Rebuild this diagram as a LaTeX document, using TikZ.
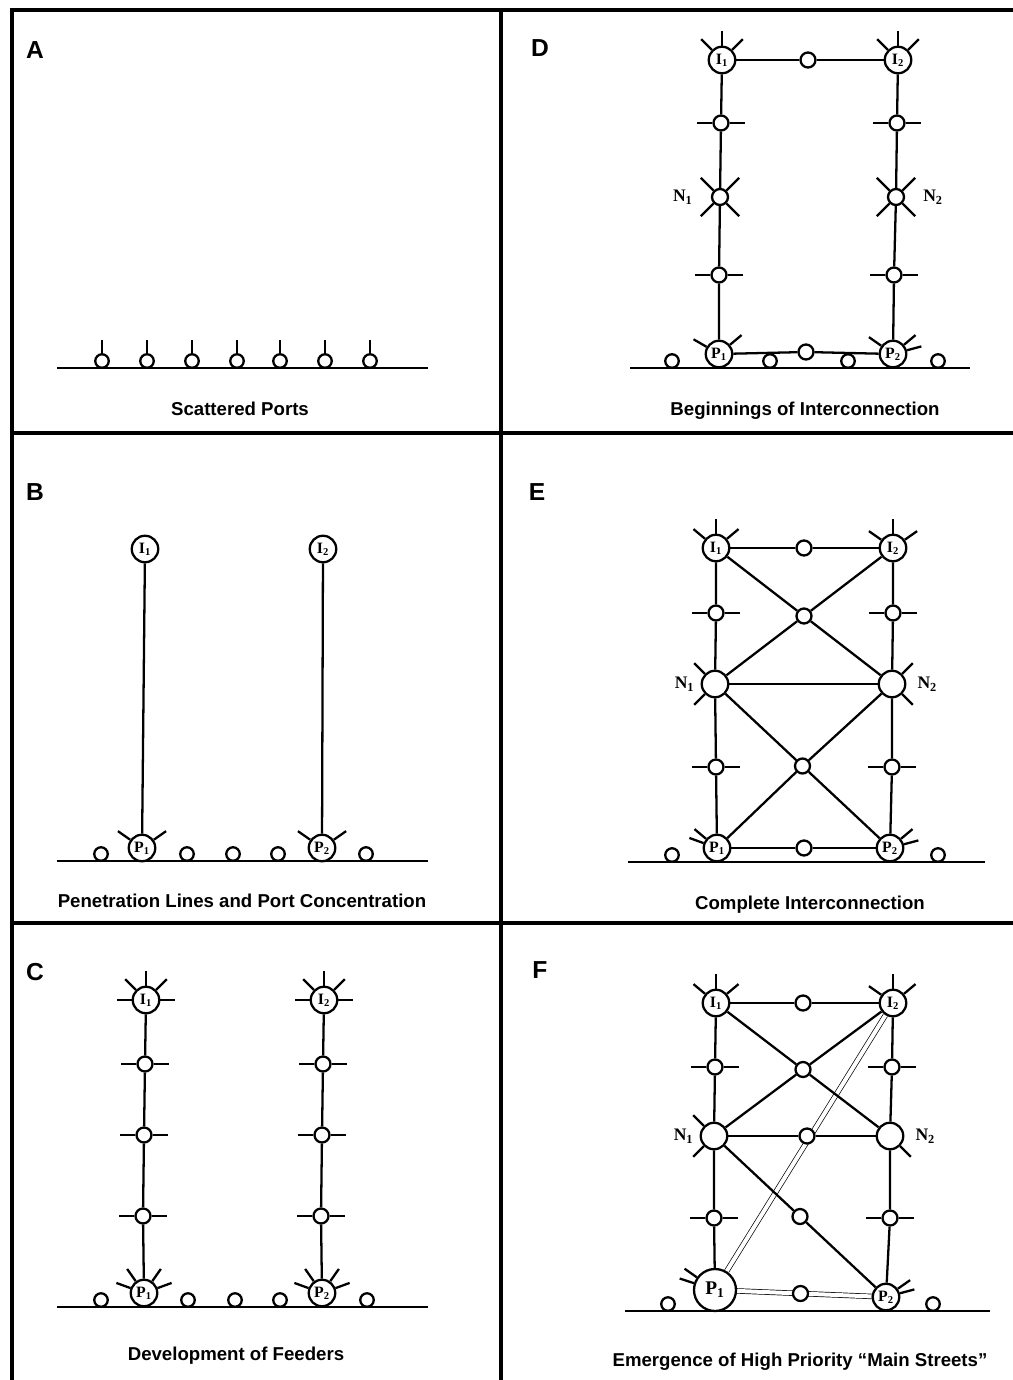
\documentclass[tikz,border=0pt]{standalone}
\usepackage{fontspec}
\setmainfont{Liberation Sans}
\newfontfamily\hubfont{Liberation Serif}
\usetikzlibrary{positioning, calc, backgrounds}
\newcommand{\spokes}[3][3mm]{\foreach \a in {#3} {\draw (#2.\a) -- ++(\a:#1);}}
\newcommand{\ticks}[1]{\draw (#1.west) -- ++(-3mm,0) (#1.east) -- ++(3mm,0);}

\begin{document}
\begin{tikzpicture}[x=0.2mm, y=-0.2mm, line width=1.3pt,
    divider/.style={line width=2pt},
    hub/.style={circle, draw, fill=white, inner sep=0pt, minimum size=5.3mm, font=\hubfont\bfseries\fontsize{9}{9}\selectfont},
    feeder/.style={circle, draw, fill=white, inner sep=0pt, minimum size=3mm},
    port/.style={circle, draw, fill=white, inner sep=0pt, minimum size=2.7mm},
    caption/.style={font=\bfseries\fontsize{10.6}{12}\selectfont},
    panel/.style={font=\bfseries\fontsize{14}{16}\selectfont},
    tag/.style={font=\hubfont\bfseries\fontsize{10}{10}\selectfont, inner sep=0pt},
    street/.style={double, double distance=0.8mm}
  ]
  \useasboundingbox (0,0) rectangle (1013,1380);
  \draw[divider] (12,1380) -- (12,10) -- (1013,10);
  \draw[divider] (501,10) -- (501,1380);
  \draw[divider] (12,433) -- (1013,433);
  \draw[divider] (12,923) -- (1013,923);

  % A
  \node[panel] (labA) at (35,50) {A};
  \draw (57,368) -- (428,368);
  \foreach \x [count=\i] in {102,147,192,237,280,325,370} {
    \node[port] (aPort\i) at (\x,361) {};
    \draw (aPort\i.north) -- ++(0,2.6mm);
  }
  \node[caption] (capA) at (240,409) {Scattered Ports};

  % B
  \node[panel] (labB) at (35,492) {B};
  \draw (57,861) -- (428,861);
  \foreach \x [count=\i] in {101,187,233,278,366}
    \node[port] (bPort\i) at (\x,854) {};
  \node[hub] (bI1) at (145,549) {I\textsubscript{1}};
  \node[hub] (bI2) at (323,549) {I\textsubscript{2}};
  \node[hub] (bP1) at (142,848) {P\textsubscript{1}};
  \node[hub] (bP2) at (322,848) {P\textsubscript{2}};
  \draw (bI1) -- (bP1);
  \draw (bI2) -- (bP2);
  \spokes{bP1}{145,35}
  \spokes{bP2}{145,35}
  \node[caption] (capB) at (242,901) {Penetration Lines and Port Concentration};

  % C
  \node[panel] (labC) at (35,972) {C};
  \draw (57,1307) -- (428,1307);
  \foreach \x [count=\i] in {101,188,235,280,367}
    \node[port] (cPort\i) at (\x,1300) {};
  \foreach \s/\x/\xp in {1/146/144,2/324/322} {
    \node[hub] (cI\s) at (\x,1000) {I\textsubscript{\s}};
    \node[hub] (cP\s) at (\xp,1293) {P\textsubscript{\s}};
    \foreach \y [count=\k] in {1064,1135,1216} {
      \node[feeder] (cF\s\k) at (\x-\k,\y) {};
      \ticks{cF\s\k}
    }
    \draw (cI\s) -- (cF\s1) -- (cF\s2) -- (cF\s3) -- (cP\s);
    \spokes{cI\s}{0,45,90,135,180}
    \spokes{cP\s}{160,125,55,20}
  }
  \node[caption] (capC) at (236,1356) {Development of Feeders};

  % D
  \node[panel] (labD) at (540,48) {D};
  \draw (630,368) -- (970,368);
  \node[hub] (dI1) at (722,60) {I\textsubscript{1}};
  \node[hub] (dI2) at (898,60) {I\textsubscript{2}};
  \node[feeder] (dM1) at (808,60) {};
  \node[feeder] (dFa1) at (721,123) {};
  \node[feeder] (dFa2) at (897,123) {};
  \node[feeder, minimum size=3.2mm] (dN1) at (720,197) {};
  \node[feeder, minimum size=3.2mm] (dN2) at (896,197) {};
  \node[feeder] (dFb1) at (719,275) {};
  \node[feeder] (dFb2) at (894,275) {};
  \node[hub] (dP1) at (719,354) {P\textsubscript{1}};
  \node[hub] (dP2) at (893,354) {P\textsubscript{2}};
  \node[feeder] (dM2) at (806,352) {};
  \foreach \x [count=\i] in {672,770,848,938}
    \node[port] (dPort\i) at (\x,361) {};
  \draw (dI1) -- (dM1) -- (dI2);
  \draw (dI1) -- (dFa1) -- (dN1) -- (dFb1) -- (dP1);
  \draw (dI2) -- (dFa2) -- (dN2) -- (dFb2) -- (dP2);
  \draw (dP1) -- (dM2) -- (dP2);
  \foreach \n in {dFa1,dFa2,dFb1,dFb2} {\ticks{\n}}
  \spokes{dI1}{45,90,135}
  \spokes{dI2}{45,90,135}
  \spokes[3.6mm]{dN1}{45,135,225,315}
  \spokes[3.6mm]{dN2}{45,135,225,315}
  \spokes{dP1}{150,40}
  \spokes{dP2}{145,40,15}
  \node[tag, left=3.4mm of dN1] (dLab1) {N\textsubscript{1}};
  \node[tag, right=3.4mm of dN2] (dLab2) {N\textsubscript{2}};
  \node[caption] (capD) at (805,411) {Beginnings of Interconnection};

  % E
  \node[panel] (labE) at (537,492) {E};
  \draw (628,862) -- (985,862);
  \node[hub] (eI1) at (716,548) {I\textsubscript{1}};
  \node[hub] (eI2) at (893,548) {I\textsubscript{2}};
  \node[hub] (eN1) at (715,684) {};
  \node[hub] (eN2) at (892,684) {};
  \node[hub] (eP1) at (717,848) {P\textsubscript{1}};
  \node[hub] (eP2) at (890,848) {P\textsubscript{2}};
  \node[feeder] (eM1) at (804,548) {};
  \node[feeder] (eM2) at (804,848) {};
  \node[feeder] (eFa1) at (716,613) {};
  \node[feeder] (eFa2) at (893,613) {};
  \node[feeder] (eFb1) at (716,767) {};
  \node[feeder] (eFb2) at (892,767) {};
  \node[feeder] (eX1) at ($(eI1)!0.5!(eN2)$) {};
  \node[feeder] (eX2) at ($(eN1)!0.5!(eP2)$) {};
  \node[port] (ePort1) at (672,855) {};
  \node[port] (ePort2) at (938,855) {};
  \draw (eI1) -- (eM1) -- (eI2);
  \draw (eI1) -- (eFa1) -- (eN1) -- (eFb1) -- (eP1);
  \draw (eI2) -- (eFa2) -- (eN2) -- (eFb2) -- (eP2);
  \draw (eI1) -- (eX1) -- (eN2);
  \draw (eI2) -- (eX1) -- (eN1);
  \draw (eN1) -- (eN2);
  \draw (eN1) -- (eX2) -- (eP2);
  \draw (eN2) -- (eX2) -- (eP1);
  \draw (eP1) -- (eM2) -- (eP2);
  \foreach \n in {eFa1,eFa2,eFb1,eFb2} {\ticks{\n}}
  \spokes{eI1}{40,90,140}
  \spokes{eI2}{35,90,145}
  \spokes{eN1}{135,225}
  \spokes{eN2}{45,315}
  \spokes{eP1}{140,160}
  \spokes{eP2}{40,15}
  \node[tag, left=1mm of eN1] (eLab1) {N\textsubscript{1}};
  \node[tag, right=2mm of eN2] (eLab2) {N\textsubscript{2}};
  \node[caption] (capE) at (810,905) {Complete Interconnection};

  % F
  \node[panel] (labF) at (540,970) {F};
  \draw (625,1311) -- (990,1311);
  \node[hub] (fI1) at (716,1003) {I\textsubscript{1}};
  \node[hub] (fI2) at (893,1003) {I\textsubscript{2}};
  \node[hub] (fN1) at (714,1136) {};
  \node[hub] (fN2) at (890,1136) {};
  \node[hub, minimum size=8.4mm, font=\hubfont\bfseries\fontsize{11}{11}\selectfont] (fP1) at (715,1290) {P\textsubscript{1}};
  \node[hub] (fP2) at (886,1297) {P\textsubscript{2}};
  \begin{scope}[on background layer]
    \draw[street] (fI2) -- (fP1);
    \draw[street] (fP1) -- (fP2);
  \end{scope}
  \node[feeder] (fM1) at (803,1003) {};
  \node[feeder] (fFa1) at (715,1067) {};
  \node[feeder] (fFa2) at (892,1067) {};
  \node[feeder] (fX1) at ($(fI1)!0.5!(fN2)$) {};
  \node[feeder] (fM2) at (807,1136) {};
  \node[feeder] (fFb1) at (714,1218) {};
  \node[feeder] (fFb2) at (890,1218) {};
  \node[feeder] (fQ) at ($(fN1)!0.5!(fP2)$) {};
  \node[feeder] (fM3) at ($(fP1)!0.5!(fP2)$) {};
  \node[port] (fPort1) at (668,1304) {};
  \node[port] (fPort2) at (933,1304) {};
  \draw (fI1) -- (fM1) -- (fI2);
  \draw (fI1) -- (fFa1) -- (fN1) -- (fFb1) -- (fP1);
  \draw (fI2) -- (fFa2) -- (fN2) -- (fFb2) -- (fP2);
  \draw (fI1) -- (fX1) -- (fN2);
  \draw (fI2) -- (fX1) -- (fN1);
  \draw (fN1) -- (fM2) -- (fN2);
  \draw (fN1) -- (fQ) -- (fP2);
  \foreach \n in {fFa1,fFa2,fFb1,fFb2} {\ticks{\n}}
  \spokes{fI1}{40,90,140}
  \spokes{fI2}{40,90,145}
  \spokes{fN1}{135,225}
  \spokes{fN2}{315}
  \spokes{fP1}{145,162}
  \spokes{fP2}{35,15}
  \node[tag, left=1mm of fN1] (fLab1) {N\textsubscript{1}};
  \node[tag, right=2mm of fN2] (fLab2) {N\textsubscript{2}};
  \node[caption] (capF) at (800,1362) {Emergence of High Priority “Main Streets”};
\end{tikzpicture}
\end{document}
